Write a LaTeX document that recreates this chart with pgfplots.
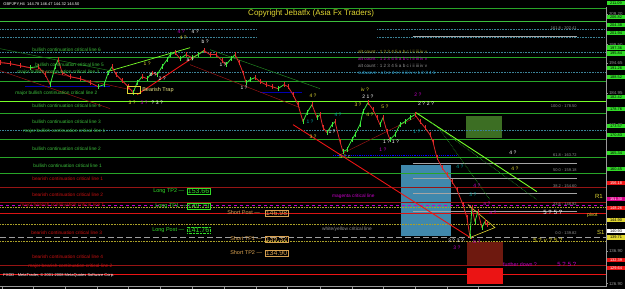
\documentclass[border=0pt]{standalone}
\usepackage{pgfplots}
\pgfplotsset{compat=1.18}
\usepackage{fontspec}
\setmainfont{Liberation Sans}
\definecolor{lgreen}{RGB}{40,165,40}
\definecolor{tgreen}{RGB}{60,190,60}
\definecolor{blime}{RGB}{120,255,40}
\definecolor{teald}{RGB}{60,130,150}
\definecolor{dred}{RGB}{150,20,20}
\definecolor{bred}{RGB}{235,20,20}
\definecolor{mag}{RGB}{200,0,200}
\definecolor{olv}{RGB}{170,160,40}
\definecolor{ylw}{RGB}{225,215,50}
\definecolor{fibg}{RGB}{165,165,165}
\definecolor{boxg}{RGB}{50,220,40}
\definecolor{shortc}{RGB}{215,160,80}
\definecolor{ltblue}{RGB}{64,136,172}
\definecolor{dkgbox}{RGB}{60,110,35}
\definecolor{brownbox}{RGB}{110,25,15}
\newcommand{\fs}[1]{\fontsize{#1}{#1}\selectfont}
\pgfplotstableread{
x y c
0 194.31 0
10 194.01 0
20 193.40 0
30 192.79 1
38 193.10 0
45 190.65 0
50 187.60 1
55 193.10 1
58 195.23 0
62 191.25 0
70 190.04 0
80 189.43 0
90 188.21 0
98 186.99 1
104 187.60 1
108 191.25 1
112 193.10 0
116 190.65 0
122 188.82 0
128 186.99 0
133 185.16 1
137 188.21 1
142 190.04 0
147 189.43 1
152 191.25 0
157 190.65 1
162 193.10 1
167 195.23 1
170 196.76 1
175 197.37 0
180 195.54 1
186 196.76 0
192 195.84 1
198 196.76 1
204 197.98 0
210 196.76 0
216 196.76 0
222 194.92 0
226 193.70 1
231 195.54 1
235 196.76 0
239 194.31 0
243 191.25 0
246 188.21 1
250 189.13 1
255 189.74 0
260 188.52 0
266 187.60 0
272 186.99 0
278 186.38 1
284 187.60 0
288 186.99 0
293 184.55 0
298 181.50 0
303 176.32 1
307 179.06 1
312 181.50 0
317 177.54 1
320 178.45 0
323 174.49 0
327 172.96 1
332 175.40 1
335 176.32 0
340 170.20 0
343 167.17 1
347 167.78 1
352 170.83 1
355 172.35 1
360 175.40 1
363 179.37 1
368 182.11 0
373 179.98 0
377 177.54 0
380 175.40 1
383 177.54 0
387 173.27 0
390 170.83 1
395 172.35 1
400 175.40 1
405 176.32 1
410 177.54 1
415 178.45 0
420 176.32 0
425 174.49 0
430 172.35 0
433 170.20 0
437 165.34 0
442 162.30 0
447 160.15 0
452 158.02 0
457 155.57 0
463 151.00 0
467 147.03 0
470 141.23 1
472 150.08 0
475 145.81 1
478 148.86 0
482 143.98 1
485 145.81 0
487 144.90 0
}\pricedata
\begin{document}
\begin{tikzpicture}[x=1pt,y=1pt]
\fill[black] (0,0) rectangle (625,289);
\begin{axis}[at={(0,7)}, anchor=south west, scale only axis,
  width=606pt, height=280pt,
  xmin=0, xmax=606, ymin=125.99, ymax=211.40,
  axis x line=bottom, axis y line=right,
  every outer x axis line/.append style={-},
  every outer y axis line/.append style={-},
  axis line style={draw=gray!80, -},
  tick align=outside, major tick length=2pt,
  tick style={gray!80, line width=0.4pt},
  xtick={2,33,65,97,128,160,192,224,256,287,320,352,383,415,447,478},
  xticklabels={1 Sep 2008,4 Sep 04:00,8 Sep 21:00,11 Sep 13:00,16 Sep 06:00,18 Sep 22:00,23 Sep 14:00,26 Sep 06:00,30 Sep 22:00,2 Oct 14:00,8 Oct 06:00,10 Oct 22:00,15 Oct 14:00,20 Oct 07:00,22 Oct 23:00,27 Oct 15:00},
  xticklabel style={anchor=north west, inner sep=0.8pt, font=\fs{4.3}, text=white},
  ytick={209.20,199.80,194.20,189.90,184.95,180.00,175.20,146.40,136.90,126.90},
  yticklabels={209.20,199.50,194.65,189.90,184.95,180.00,175.20,146.40,136.90,126.90},
  yticklabel style={anchor=west, inner sep=0.2pt, xshift=0.8pt, font=\fs{4.4}, text=gray!85},
  colormap={rg}{rgb255=(225,40,40) rgb255=(60,235,60)},
  point meta min=0, point meta max=1,
  clip=true,
]
% boxes
\addplot[draw=none, fill=ltblue] coordinates {(401,163.20) (451,163.20) (451,141.54) (401,141.54)} --cycle;
\addplot[draw=none, fill=dkgbox] coordinates {(466,178.15) (502,178.15) (502,171.44) (466,171.44)} --cycle;
\addplot[draw=none, fill=brownbox] coordinates {(467,139.71) (503,139.71) (503,132.70) (467,132.70)} --cycle;
\addplot[draw=none, fill=bred] coordinates {(467,131.78) (503,131.78) (503,126.90) (467,126.90)} --cycle;
% green levels
\addplot[lgreen, line width=0.6pt] coordinates {(0,210.79) (606,210.79)};
\addplot[tgreen, line width=0.6pt] coordinates {(0,206.82) (606,206.82)};
\addplot[teald, densely dotted, line width=0.6pt] coordinates {(0,204.38) (257,204.38)};
\addplot[teald, densely dotted, line width=0.6pt] coordinates {(377,204.38) (606,204.38)};
\addplot[teald, densely dotted, line width=0.6pt] coordinates {(0,201.94) (257,201.94)};
\addplot[teald, densely dotted, line width=0.6pt] coordinates {(377,201.94) (606,201.94)};
\addplot[teald, densely dotted, line width=0.6pt] coordinates {(0,197.36) (606,197.36)};
\addplot[lgreen, line width=0.6pt] coordinates {(0,195.84) (606,195.84)};
\addplot[teald, densely dotted, line width=0.6pt] coordinates {(0,191.26) (606,191.26)};
\addplot[lgreen, line width=0.6pt] coordinates {(0,188.52) (606,188.52)};
\addplot[blime, line width=0.8pt] coordinates {(0,182.42) (606,182.42)};
\addplot[lgreen, line width=0.6pt] coordinates {(0,178.76) (606,178.76)};
\addplot[teald, densely dotted, line width=0.6pt] coordinates {(0,173.57) (606,173.57)};
\addplot[lgreen, line width=0.6pt] coordinates {(0,170.83) (606,170.83)};
\addplot[lgreen, line width=0.6pt] coordinates {(0,165.34) (606,165.34)};
\addplot[lgreen, line width=0.6pt] coordinates {(0,160.45) (606,160.45)};
% red / other levels
\addplot[dred, line width=0.6pt] coordinates {(0,156.18) (606,156.18)};
\addplot[dred, line width=0.6pt] coordinates {(0,151.61) (606,151.61)};
\addplot[mag, dashed, line width=0.7pt] coordinates {(0,150.69) (606,150.69)};
\addplot[olv, densely dotted, line width=0.6pt] coordinates {(0,150.08) (606,150.08)};
\addplot[bred!80!dred, line width=0.6pt] coordinates {(0,148.26) (606,148.26)};
\addplot[olv, densely dotted, line width=0.6pt] coordinates {(0,144.90) (606,144.90)};
\addplot[gray!75, dash pattern=on 6pt off 3pt, line width=0.7pt] coordinates {(0,140.93) (606,140.93)};
\addplot[olv, densely dotted, line width=0.6pt] coordinates {(0,139.71) (606,139.71)};
\addplot[dred, line width=0.6pt] coordinates {(0,132.39) (606,132.39)};
\addplot[bred, line width=1pt] coordinates {(0,129.64) (606,129.64)};
% fib lines
\addplot[fibg, line width=0.5pt] coordinates {(413,202.41) (577,202.41)};
\addplot[fibg, line width=0.5pt] coordinates {(413,163.72) (577,163.72)};
\addplot[fibg, line width=0.5pt] coordinates {(413,159.18) (577,159.18)};
\addplot[fibg, line width=0.5pt] coordinates {(413,154.60) (577,154.60)};
\addplot[fibg, line width=0.5pt] coordinates {(413,148.92) (577,148.92)};
% blue lines
\addplot[blue!70!black, line width=1.3pt] coordinates {(25,187.00) (110,187.00)};
\addplot[blue!70!black, line width=1.3pt] coordinates {(260,185.16) (302,185.16)};
\addplot[blue, densely dotted, line width=1.2pt] coordinates {(333,165.95) (457,165.95)};
% diagonal lines
\addplot[dred, line width=0.5pt] coordinates {(0,191.87) (110,180.28)};
\addplot[dred, line width=0.5pt] coordinates {(0,194.62) (135,185.77)};
\addplot[dred, line width=0.5pt] coordinates {(190,193.70) (300,180.59)};
\addplot[dred, line width=0.5pt] coordinates {(340,166.25) (415,177.54)};
\addplot[lgreen!70!black, line width=0.5pt] coordinates {(0,198.58) (110,191.87)};
\addplot[lgreen!80!black, line width=0.5pt] coordinates {(210,198.28) (320,186.38)};
\addplot[blime, line width=0.7pt] coordinates {(107,191.57) (190,198.89)};
\addplot[bred, line width=0.9pt] coordinates {(137,184.55) (205,198.28)};
\addplot[bred, line width=0.9pt] coordinates {(293,175.40) (472,140.63)};
\addplot[blime, line width=0.9pt] coordinates {(416,179.06) (537,154.96)};
\addplot[lgreen, densely dotted, line width=0.6pt] coordinates {(427,176.93) (537,152.52)};
\addplot[lgreen, densely dotted, line width=0.6pt] coordinates {(440,173.88) (490,152.52)};
\addplot[ylw, line width=0.6pt] coordinates {(468,151.00) (495,143.98) (470,140.93)};
% price
\addplot[mesh, shader=flat corner, point meta=explicit, line width=0.8pt] table[x=x, y=y, meta=c] {\pricedata};
\addplot[scatter, only marks, mark=|, mark size=2.2pt, point meta=explicit, scatter/use mapped color={draw=mapped color}] table[x=x, y=y, meta=c] {\pricedata};
\end{axis}
\begin{scope}[shift={(0,289)}, yscale=-1]
% header/footer
\node[anchor=west, inner sep=0, text=white, font=\fs{4}] at (3,4) {GBPJPY,H4\ \ 144.78 146.47 144.32 144.50};
\node[anchor=west, inner sep=0, text=ylw, font=\fs{8}] at (248,13) {Copyright Jebatfx (Asia Fx Traders)};
\node[anchor=west, inner sep=0, text=white, font=\fs{4}] at (3,276) {FXDD - MetaTrader, \textcopyright\ 2001-2008 MetaQuotes Software Corp.};
% alt counts
\node[anchor=west, inner sep=0, text=olv, font=\fs{4.6}] at (358,52) {alt count : 1 2 3 4 5 a b c i ii iii iv v};
\node[anchor=west, inner sep=0, text=mag, font=\fs{4.6}] at (358,59) {alt count : 1 2 3 4 5 a b c i ii iii iv v};
\node[anchor=west, inner sep=0, text=gray!85, font=\fs{4.6}] at (358,66) {alt count : 1 2 3 4 5 a b c i ii iii iv v};
\node[anchor=west, inner sep=0, text=cyan!60!teal, font=\fs{4.6}] at (358,73) {subwave : a b c d e i ii iii iv v 1 2 3 4 5};
% critical line labels
\begin{scope}[every node/.style={anchor=west, inner sep=0, font=\fs{4.8}}]
\node[text=tgreen] at (32,50) {bullish continuation critical line 6};
\node[text=tgreen] at (35,65) {bullish continuation critical line 5};
\node[text=tgreen] at (17,72) {major bullish continuation critical line 3};
\node[text=tgreen] at (15,93) {major bullish continuation critical line 2};
\node[text=tgreen] at (32,106) {bullish continuation critical line 4};
\node[text=tgreen] at (32,122) {bullish continuation critical line 3};
\node[text=tgreen] at (23,131) {major bullish continuation critical line 1};
\node[text=tgreen] at (32,149) {bullish continuation critical line 2};
\node[text=tgreen] at (33,166) {bullish continuation critical line 1};
\node[text=bred!85!black] at (32,179) {bearish continuation critical line 1};
\node[text=bred!85!black] at (32,195) {bearish continuation critical line 2};
\node[text=bred!85!black] at (20,205) {major bearish continuation critical line 1};
\node[text=bred!85!black] at (31,233) {bearish continuation critical line 3};
\node[text=bred!85!black] at (32,257) {bearish continuation critical line 4};
\node[text=bred!85!black] at (28,266) {major bearish continuation critical line 2};
\node[text=mag] at (332,196) {magenta critical line};
\node[text=gray!85] at (322,229) {white/yellow critical line};
\node[text=mag, font=\fs{5.3}] at (503,265) {further down ?};
\end{scope}
% trade boxes
\begin{scope}[every node/.style={inner sep=0}]
\node[anchor=west, text=boxg, font=\fs{5.5}] at (153,191) {Long TP2 ---};
\node[anchor=west, draw=boxg, text=boxg, font=\fs{7}, inner sep=0.6pt] at (187,191) {153.66};
\node[anchor=west, text=boxg, font=\fs{5.5}] at (155,206) {Long TP1 ---};
\node[anchor=west, draw=boxg, text=boxg, font=\fs{7}, inner sep=0.6pt] at (187,206) {149.79};
\node[anchor=west, text=shortc, font=\fs{5.5}] at (227,213) {Short Post ---};
\node[anchor=west, draw=shortc, text=shortc, font=\fs{7}, inner sep=0.6pt] at (265,213) {146.98};
\node[anchor=west, text=boxg, font=\fs{5.5}] at (152,230) {Long Post ---};
\node[anchor=west, draw=boxg, densely dotted, text=boxg, font=\fs{7}, inner sep=0.6pt] at (187,230) {141.76};
\node[anchor=west, text=shortc, font=\fs{5.5}] at (230,239) {Short TP1 ---};
\node[anchor=west, draw=shortc, text=shortc, font=\fs{7}, inner sep=0.6pt] at (265,239) {139.32};
\node[anchor=west, text=shortc, font=\fs{5.5}] at (230,253) {Short TP2 ---};
\node[anchor=west, draw=shortc, text=shortc, font=\fs{7}, inner sep=0.6pt] at (265,253) {134.90};
\draw[ylw, line width=0.6pt] (127,86) rectangle (140,93);
\node[anchor=west, text=ylw!60!white, font=\fs{5.5}] at (142,90) {Bearish Trap};
\end{scope}
% fib labels
\begin{scope}[every node/.style={anchor=east, inner sep=0, text=gray!85, font=\fs{4}}]
\node at (577,28) {161.8 - 202.41};
\node at (577,106) {100.0 - 178.50};
\node at (577,155) {61.8 - 163.72};
\node at (577,170) {50.0 - 159.18};
\node at (577,186) {38.2 - 154.60};
\node at (577,204) {23.6 - 148.92};
\node at (577,233) {0.0 - 139.82};
\end{scope}
\node[anchor=west, inner sep=0, text=ylw, font=\fs{6}] at (595,197) {R1};
\node[anchor=west, inner sep=0, text=ylw, font=\fs{5}] at (587,215) {pivot};
\node[anchor=west, inner sep=0, text=ylw, font=\fs{6}] at (597,233) {S1};
% wave labels
\begin{scope}[every node/.style={inner sep=0, font=\fs{5}}]
\node[text=mag] at (181,32) {4 ?};
\node[text=white] at (195,32) {4 ?};
\node[text=ylw] at (183,38) {4 ?};
\node[text=white] at (205,42) {b ?};
\node[text=white] at (190,60) {a ?};
\node[text=ylw] at (147,64) {1 ?};
\node[text=white] at (153,75) {b ?};
\node[text=white] at (162,79) {2 ?};
\node[text=white] at (223,65) {1 ?};
\node[text=white] at (244,88) {1 ?};
\node[text=ylw] at (313,96) {4 ?};
\node[text=ylw] at (132,103) {3 ?};
\node[text=mag] at (144,103) {3 ?};
\node[text=white] at (157,103) {? 3 ?};
\node[text=ylw] at (365,90) {iv ?};
\node[text=white] at (368,97) {2 1 ?};
\node[text=ylw] at (358,105) {3 ?};
\node[text=ylw] at (370,115) {4 ?};
\node[text=ylw] at (385,107) {5 ?};
\node[text=teal!70!cyan] at (310,122) {1 ?};
\node[text=teal!70!cyan] at (338,115) {4 ?};
\node[text=white] at (332,132) {1 ?};
\node[text=ylw] at (313,137) {3 ?};
\node[text=mag] at (418,95) {2 ?};
\node[text=white] at (426,104) {2 ? 2 ?};
\node[text=teal!70!cyan] at (417,132) {1 ?};
\node[text=white] at (391,142) {1 ? 1 ?};
\node[text=mag] at (383,150) {1 ?};
\node[text=ylw] at (345,157) {5 ? c};
\node[text=white] at (513,153) {4 ?};
\node[text=ylw] at (515,169) {4 ?};
\node[text=teal!70!cyan] at (460,167) {4 ?};
\node[text=mag] at (477,186) {4 ?};
\node[text=teal!70!cyan] at (473,195) {3 ?};
\node[text=mag] at (487,204) {a ?};
\node[text=mag] at (493,213) {a ?};
\node[text=white, font=\fs{6}] at (553,213) {5 ? 5 ?};
\node[text=white] at (456,241) {3 ? 3 ?};
\node[text=mag] at (457,248) {3 ?};
\node[text=mag] at (477,242) {b ?};
\node[text=ylw, font=\fs{6}] at (548,241) {5 ? v ? 5 ?};
\node[text=mag, font=\fs{6}] at (567,265) {5 ? 5 ?};
\end{scope}
% right axis price boxes
\begin{scope}[every node/.style={anchor=west, inner sep=0, minimum height=4.6pt, minimum width=18pt, font=\fs{3.9}, text=black}]
\node[fill=boxg] at (607,3) {211.09};
\node[fill=boxg] at (607,17) {206.82};
\node[fill=boxg] at (607,25) {204.38};
\node[fill=boxg] at (607,33) {201.94};
\node[fill=boxg] at (607,47.8) {197.36};
\node[fill=boxg] at (607,53.4) {195.84};
\node[fill=boxg] at (607,68) {191.26};
\node[fill=boxg] at (607,77) {188.52};
\node[fill=boxg] at (607,97) {182.42};
\node[fill=boxg] at (607,109) {178.76};
\node[fill=boxg] at (607,126) {173.57};
\node[fill=boxg] at (607,135) {170.83};
\node[fill=boxg] at (607,153) {165.34};
\node[fill=boxg] at (607,169) {160.45};
\node[fill=bred, text=white] at (607,183) {156.18};
\node[fill=mag!70!red, text=white] at (607,199) {151.30};
\node[fill=bred, text=white] at (607,208) {148.26};
\node[fill=ylw] at (607,220) {144.90};
\node[fill=white] at (607,231.2) {140.93};
\node[fill=ylw] at (607,237.4) {139.71};
\node[fill=bred, text=white] at (607,260) {132.39};
\node[fill=bred, text=white] at (607,268) {129.64};
\end{scope}
\end{scope}
\end{tikzpicture}
\end{document}
